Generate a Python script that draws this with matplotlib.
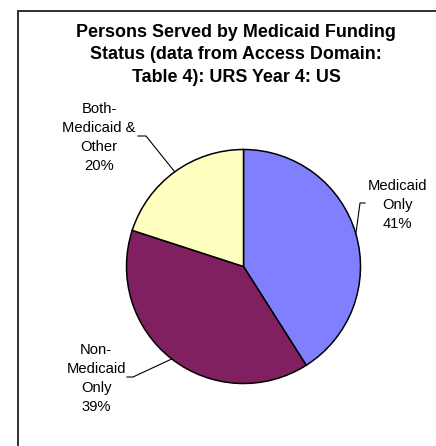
import numpy as np
import matplotlib
matplotlib.use("Agg")
import matplotlib.pyplot as plt
from matplotlib.patches import Rectangle

plt.rcParams['font.family'] = ['Liberation Sans', 'DejaVu Sans']

# data
labels = ['Medicaid\nOnly\n41%', 'Non-\nMedicaid\nOnly\n39%', 'Both-\nMedicaid &\nOther\n20%']
shares = [41, 39, 20]
colors = ['#8080FF', '#802060', '#FFFFC0']
title = 'Persons Served by Medicaid Funding\nStatus (data from Access Domain:\nTable 4): URS Year 4: US'

W, H = 436, 446
R = 117.0          # pie radius in pixels
cx, cy = 243.5, 266.5


def px(x, y):
    # pixel position -> data units (pie radius = 1, centre at 0,0)
    return (x - cx) / R, (cy - y) / R


fig = plt.figure(figsize=(W / 100, H / 100), dpi=100)
ax = fig.add_axes([0, 0, 1, 1])

wedges, _ = ax.pie(shares, colors=colors, startangle=90, counterclock=False,
                   radius=1, center=(0, 0), frame=True,
                   wedgeprops=dict(edgecolor='black', linewidth=1.1))
ax.set_xlim(px(0, 0)[0], px(W, 0)[0])
ax.set_ylim(px(0, H)[1], px(0, 0)[1])
ax.set_aspect('auto')
ax.axis('off')

renderer = fig.canvas.get_renderer()


def fit_size(s, width, **kw):
    # font size that makes string s about `width` pixels wide
    t = fig.text(0, 0, s, fontsize=10, **kw)
    w = t.get_window_extent(renderer).width
    t.remove()
    return 10 * width / w


label_fs = fit_size('Medicaid', 59)
title_fs = fit_size('Persons Served by Medicaid Funding', 320, fontweight='bold')

# label text centres and leader elbows (pixels)
text_pos = [(397, 204), (96, 377), (99, 136.5)]
elbows = [((360, 203), (365, 203)), ((133, 377), (127, 377)), ((146, 136), (138, 136))]
label_gap = 19

for w, lab, tp, (e1, e2) in zip(wedges, labels, text_pos, elbows):
    ang = np.deg2rad((w.theta1 + w.theta2) / 2)
    x0, y0 = np.cos(ang), np.sin(ang)
    a = px(*e1)
    b = px(*e2)
    ax.plot([x0, a[0], b[0]], [y0, a[1], b[1]], color='black', lw=0.8)
    lines = lab.split('\n')
    n = len(lines)
    for i, line in enumerate(lines):
        yy = tp[1] + (i - (n - 1) / 2) * label_gap
        tx, ty = px(tp[0], yy)
        ax.text(tx, ty, line, ha='center', va='center_baseline',
                fontsize=label_fs, color='black')

title_lines = title.split('\n')
for i, line in enumerate(title_lines):
    yy = 52.7 + (i - 1) * 22.5
    fig.text(236 / W, 1 - yy / H, line, ha='center', va='center_baseline',
             fontsize=title_fs, fontweight='bold')

fig.add_artist(Rectangle((18 / W, -0.1), 1.0, 1 - 11 / H + 0.1,
                         transform=fig.transFigure, fill=False,
                         edgecolor='#202020', linewidth=1.3))

fig.savefig('out.png', dpi=100)
